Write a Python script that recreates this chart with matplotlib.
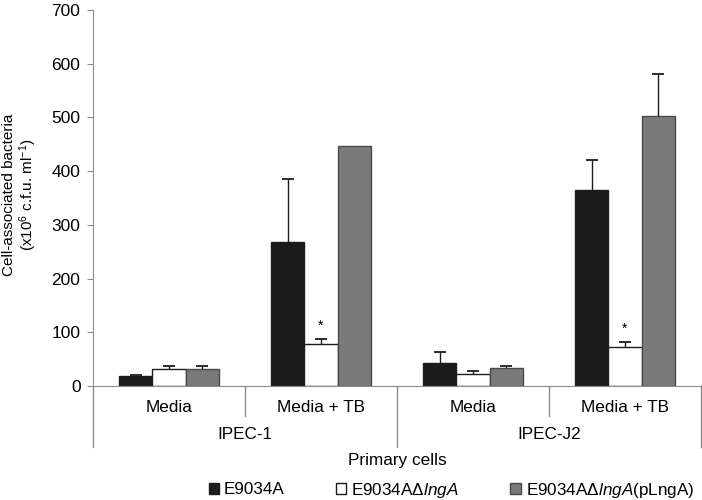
import matplotlib
matplotlib.use("Agg")
import matplotlib.pyplot as plt
import numpy as np
from matplotlib.lines import Line2D
from matplotlib.patches import Patch

plt.rcParams['font.family'] = ['Liberation Sans', 'DejaVu Sans']
plt.rcParams['mathtext.fontset'] = 'custom'
plt.rcParams['mathtext.rm'] = 'Liberation Sans'
plt.rcParams['mathtext.it'] = 'Liberation Sans:italic'

conditions = ['Media', 'Media + TB', 'Media', 'Media + TB']
cell_lines = ['IPEC-1', 'IPEC-J2']
series = ['E9034A', 'E9034AΔ$\\mathit{lngA}$', 'E9034AΔ$\\mathit{lngA}$(pLngA)']
wt = [18, 268, 43, 365]
wt_err = [3, 117, 20, 55]
mut = [32, 78, 22, 72]
mut_err = [6, 9, 6, 9]
comp = [32, 447, 33, 502]
comp_err = [5, 0, 4, 78]
signif = [None, '*', None, '*']
ylabel_lines = ['Cell-associated bacteria', '(x10$^{6}$ c.f.u. ml$^{-1}$)']

colors = ['#1c1c1c', '#ffffff', '#7a7a7a']
edges = ['#1c1c1c', '#1c1c1c', '#4a4a4a']
spine_c = '#8c8c8c'
fs = 12.3

fig = plt.figure(figsize=(7.02, 5.0), dpi=100)
ax = fig.add_axes([93/702, 1-386/500, 608/702, 376/500])

x = np.arange(len(conditions))
w = 0.22
vals = [wt, mut, comp]
errs = [wt_err, mut_err, comp_err]
for i, (v, e) in enumerate(zip(vals, errs)):
    xs = x + (i - 1) * w
    ax.bar(xs, v, width=w, color=colors[i], edgecolor=edges[i], linewidth=1.0,
           label=series[i], zorder=2)
    for xi, vi, ei in zip(xs, v, e):
        if ei > 0:
            eb = ax.errorbar(xi, vi, yerr=[[0], [ei]], fmt='none', ecolor='#1c1c1c',
                             elinewidth=1.0, capsize=4, capthick=1.3, zorder=3)
            for cl in eb[1]:
                if cl.get_ydata()[0] <= vi + 1e-9:
                    cl.set_visible(False)

for xi, vi, ei, s in zip(x, mut, mut_err, signif):
    if s:
        ax.text(xi, vi + ei + 25, s, ha='center', va='center', fontsize=10)

ax.set_xlim(-0.5, 3.5)
ax.set_ylim(0, 700)
ax.set_yticks(range(0, 701, 100))
ax.tick_params(axis='y', length=4, color=spine_c, labelsize=12.5, pad=5)
ax.set_xticks([])
for s in ['top', 'right']:
    ax.spines[s].set_visible(False)
ax.spines['left'].set_color(spine_c)
ax.spines['bottom'].set_color(spine_c)
ax.spines['left'].set_bounds(0, 700)

trans = ax.get_xaxis_transform()
for xs in [0.5, 2.5]:
    ax.add_line(Line2D([xs, xs], [0, -0.080], transform=trans, color=spine_c,
                       lw=1.0, clip_on=False))
for xs in [-0.5, 1.5, 3.5]:
    ax.add_line(Line2D([xs, xs], [0, -0.162], transform=trans, color=spine_c,
                       lw=1.0, clip_on=False))

for xi, c in zip(x, conditions):
    ax.text(xi, -0.056, c, transform=trans, ha='center', va='center', fontsize=fs)
for xi, c in zip([0.5, 2.5], cell_lines):
    ax.text(xi, -0.130, c, transform=trans, ha='center', va='center', fontsize=fs)
ax.text(1.5, -0.199, 'Primary cells', transform=trans, ha='center', va='center', fontsize=fs)

fig.text(9/702, 0.611, ylabel_lines[0], rotation=90, ha='center', va='center', fontsize=11)
fig.text(28/702, 0.611, ylabel_lines[1], rotation=90, ha='center', va='center', fontsize=11)

handles = [Patch(facecolor=colors[i], edgecolor=edges[i], label=series[i]) for i in range(3)]
fig.legend(handles=handles, loc='center', bbox_to_anchor=(0.643, 0.02), ncol=3,
           frameon=False, fontsize=fs, handlelength=0.6, handleheight=0.6,
           handletextpad=0.3, columnspacing=3.0)

fig.savefig('out.png', dpi=100)
